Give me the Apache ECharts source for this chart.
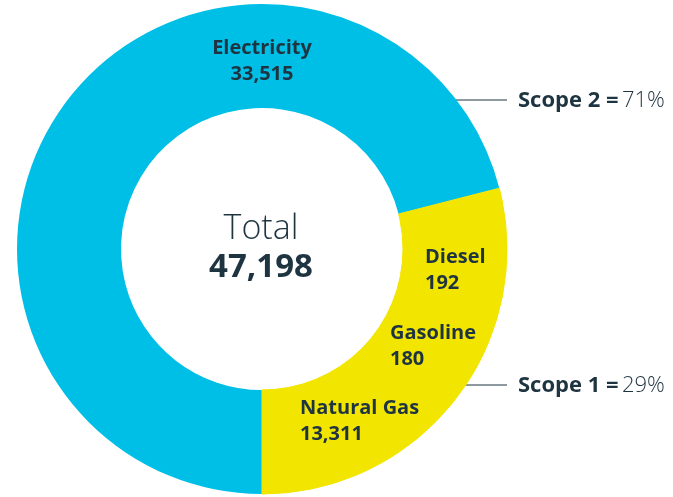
<!DOCTYPE html>
<html>
<head>
<meta charset="utf-8">
<script src="https://cdn.jsdelivr.net/npm/echarts@6/dist/echarts.min.js"></script>
<style>
  html, body { margin: 0; padding: 0; background: #fff; }
  #main { width: 673px; height: 497px; }
</style>
</head>
<body>
<div id="main"></div>
<script>
var categories = ['Electricity', 'Diesel', 'Gasoline', 'Natural Gas'];
var values = [33515, 192, 180, 13311];
var scopes = ['Scope 2', 'Scope 1'];
var scopeShares = ['71%', '29%'];
var totalLabel = 'Total';

var dark = '#1f3441';
var blue = '#00bfe7';
var yellow = '#f2e500';
var font = '"Open Sans"';

// where each slice label sits (left/top of the text block)
var labelPos = [
  { x: 262, y: 35, align: 'center' },
  { x: 425, y: 244, align: 'left' },
  { x: 390, y: 320, align: 'left' },
  { x: 300, y: 395, align: 'left' }
];

var total = 0;
for (var i = 0; i < values.length; i++) total += values[i];

var data = [];
for (var i = 0; i < categories.length; i++) {
  var c = i == 0 ? blue : yellow;
  data.push({
    name: categories[i],
    value: values[i],
    itemStyle: { color: c, borderColor: c, borderWidth: i == 0 ? 0 : 1 }
  });
}

var scopeRich = {
  b: { fontFamily: font, fontWeight: 'bold', fontSize: 22, fill: dark },
  l: { fontFamily: font, fontWeight: 300, fontSize: 22, fill: dark }
};

var myChart = echarts.init(document.getElementById('main'));
myChart.setOption({
  animation: false,
  series: [{
    type: 'pie',
    center: [262, 249],
    radius: [141, 245],
    startAngle: 270,
    clockwise: true,
    label: {
      show: true,
      position: 'inside',
      color: dark,
      fontFamily: font,
      fontWeight: 'bold',
      fontSize: 20,
      lineHeight: 26,
      formatter: function (p) {
        return p.name + '\n' + p.value.toLocaleString('en-US');
      }
    },
    labelLine: { show: false },
    labelLayout: function (p) {
      var lp = labelPos[p.dataIndex];
      return { x: lp.x, y: lp.y, align: lp.align, verticalAlign: 'top' };
    },
    emphasis: { disabled: true },
    data: data
  }],
  graphic: [
    {
      type: 'text',
      style: {
        x: 261, y: 229, text: totalLabel, textAlign: 'center', textVerticalAlign: 'middle',
        fill: dark, font: '300 34px ' + font
      }
    },
    {
      type: 'text',
      style: {
        x: 261, y: 268, text: total.toLocaleString('en-US'), textAlign: 'center', textVerticalAlign: 'middle',
        fill: dark, font: 'bold 33px ' + font
      }
    },
    {
      type: 'line',
      shape: { x1: 430, y1: 100, x2: 507, y2: 100 },
      style: { stroke: dark, lineWidth: 1 }
    },
    {
      type: 'line',
      shape: { x1: 450, y1: 385, x2: 507, y2: 385 },
      style: { stroke: dark, lineWidth: 1 }
    },
    {
      type: 'text',
      style: {
        x: 518, y: 101, textVerticalAlign: 'middle',
        text: '{b|' + scopes[0] + ' =} {l|' + scopeShares[0] + '}',
        rich: scopeRich
      }
    },
    {
      type: 'text',
      style: {
        x: 518, y: 386, textVerticalAlign: 'middle',
        text: '{b|' + scopes[1] + ' =} {l|' + scopeShares[1] + '}',
        rich: scopeRich
      }
    }
  ]
});
</script>
</body>
</html>
